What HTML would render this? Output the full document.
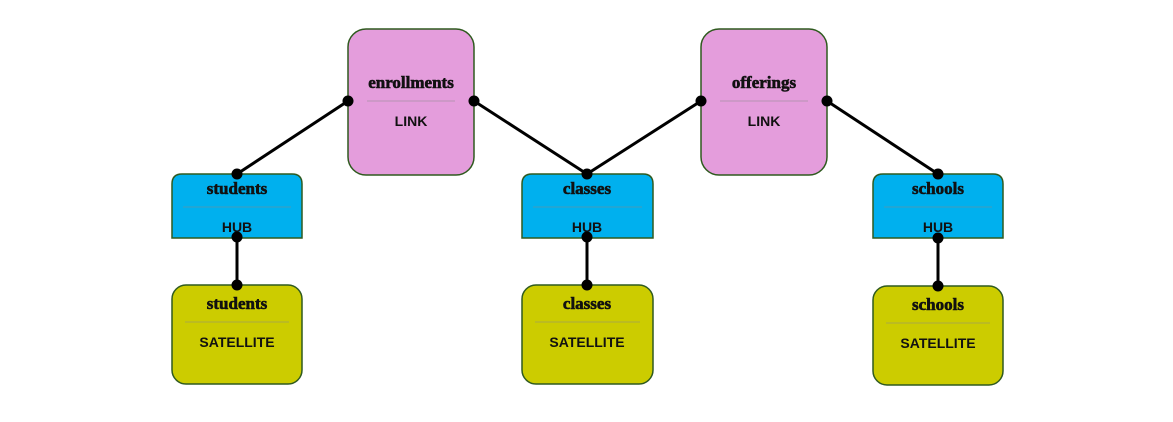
<!DOCTYPE html>
<html><head><meta charset="utf-8"><style>
html,body{margin:0;padding:0;background:#fff;}
svg{display:block;}
.t{font-family:"Liberation Serif",serif;font-weight:bold;font-size:17px;fill:#111;stroke:#111;stroke-width:0.6;}
.s{font-family:"Liberation Sans",sans-serif;font-weight:bold;font-size:14px;fill:#111;}
</style></head><body>
<svg width="1173" height="422" viewBox="0 0 1173 422" xmlns="http://www.w3.org/2000/svg">
<g stroke="#2f5a1f" stroke-width="1.5">
  <rect x="348" y="29" width="126" height="146" rx="18" fill="#e49ddc"/>
  <rect x="701" y="29" width="126" height="146" rx="18" fill="#e49ddc"/>
  <path d="M172,238 V184 Q172,174 182,174 H292 Q302,174 302,184 V238 Z" fill="#00b0ee"/>
  <path d="M522,238 V184 Q522,174 532,174 H643 Q653,174 653,184 V238 Z" fill="#00b0ee"/>
  <path d="M873,238 V184 Q873,174 883,174 H993 Q1003,174 1003,184 V238 Z" fill="#00b0ee"/>
  <rect x="172" y="285" width="130" height="99" rx="14" fill="#cccc00"/>
  <rect x="522" y="285" width="131" height="99" rx="14" fill="#cccc00"/>
  <rect x="873" y="286" width="130" height="99" rx="14" fill="#cccc00"/>
</g>
<g stroke="#888" stroke-width="0.6">
  <line x1="367" y1="101" x2="455" y2="101"/>
  <line x1="720" y1="101" x2="808" y2="101"/>
  <line x1="183" y1="207" x2="291" y2="207"/>
  <line x1="533" y1="207" x2="642" y2="207"/>
  <line x1="884" y1="207" x2="992" y2="207"/>
  <line x1="185" y1="322" x2="289" y2="322"/>
  <line x1="535" y1="322" x2="640" y2="322"/>
  <line x1="886" y1="323" x2="990" y2="323"/>
</g>
<g text-anchor="middle">
  <text class="t" x="411" y="88">enrollments</text>
  <text class="s" x="411" y="126">LINK</text>
  <text class="t" x="764" y="88">offerings</text>
  <text class="s" x="764" y="126">LINK</text>
  <text class="t" x="237" y="194">students</text>
  <text class="s" x="237" y="232">HUB</text>
  <text class="t" x="587" y="194">classes</text>
  <text class="s" x="587" y="232">HUB</text>
  <text class="t" x="938" y="194">schools</text>
  <text class="s" x="938" y="232">HUB</text>
  <text class="t" x="237" y="309">students</text>
  <text class="s" x="237" y="347">SATELLITE</text>
  <text class="t" x="587" y="309">classes</text>
  <text class="s" x="587" y="347">SATELLITE</text>
  <text class="t" x="938" y="310">schools</text>
  <text class="s" x="938" y="348">SATELLITE</text>
</g>
<g stroke="#000" stroke-width="3" stroke-linecap="round">
  <line x1="348" y1="101" x2="237" y2="174"/>
  <line x1="474" y1="101" x2="587" y2="174"/>
  <line x1="701" y1="101" x2="587" y2="174"/>
  <line x1="827" y1="101" x2="938" y2="174"/>
  <line x1="237" y1="237" x2="237" y2="285"/>
  <line x1="587" y1="237" x2="587" y2="285"/>
  <line x1="938" y1="238" x2="938" y2="286"/>
</g>
<g fill="#000">
  <circle cx="348" cy="101" r="5.5"/><circle cx="474" cy="101" r="5.5"/>
  <circle cx="701" cy="101" r="5.5"/><circle cx="827" cy="101" r="5.5"/>
  <circle cx="237" cy="174" r="5.5"/><circle cx="587" cy="174" r="5.5"/><circle cx="938" cy="174" r="5.5"/>
  <circle cx="237" cy="237" r="5.5"/><circle cx="587" cy="237" r="5.5"/><circle cx="938" cy="238" r="5.5"/>
  <circle cx="237" cy="285" r="5.5"/><circle cx="587" cy="285" r="5.5"/><circle cx="938" cy="286" r="5.5"/>
</g>
</svg>
</body></html>
